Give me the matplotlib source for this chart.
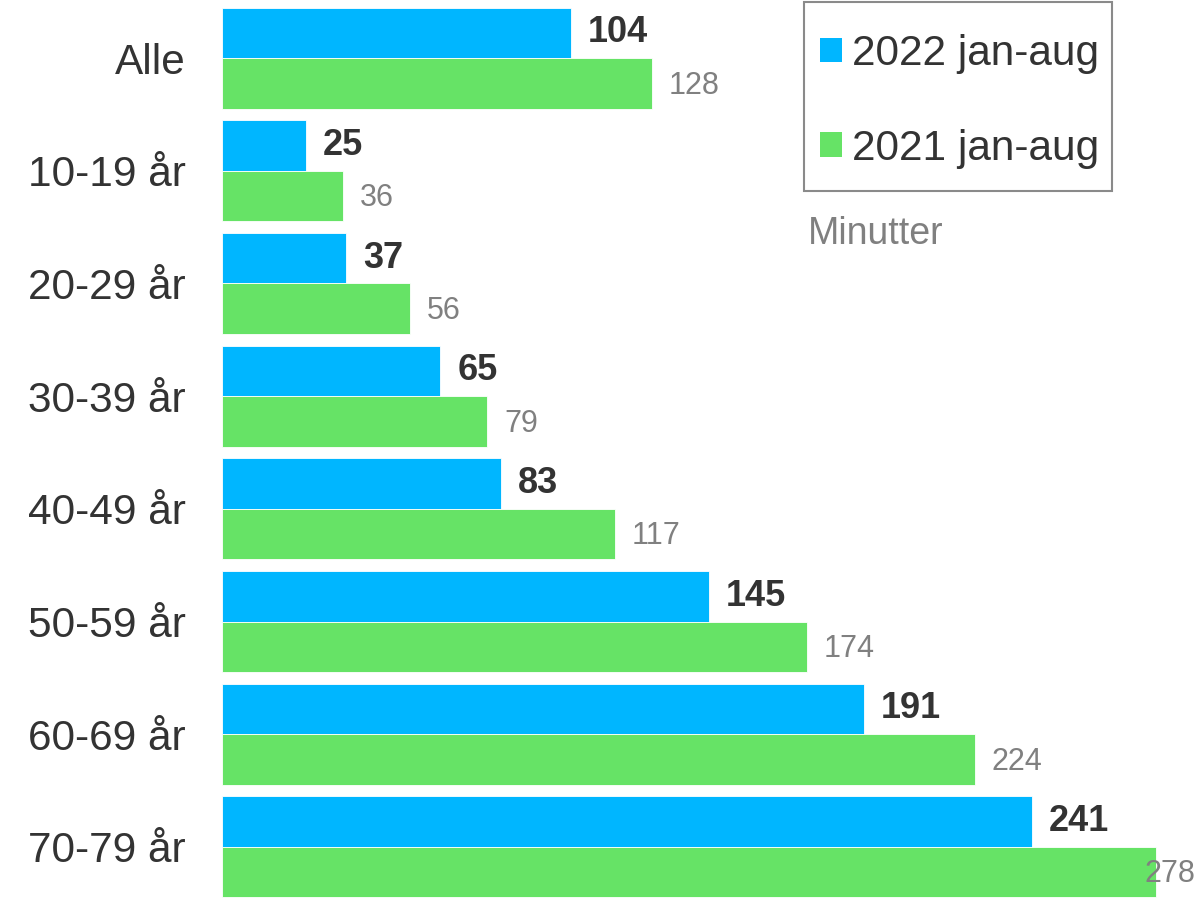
import numpy as np
import matplotlib.pyplot as plt
from matplotlib.patches import Patch, Rectangle

plt.rcParams['font.family'] = ['Liberation Sans', 'DejaVu Sans']

categories = ['Alle', '10-19 år', '20-29 år', '30-39 år', '40-49 år',
              '50-59 år', '60-69 år', '70-79 år']
minutes_2022 = [104, 25, 37, 65, 83, 145, 191, 241]
minutes_2021 = [128, 36, 56, 79, 117, 174, 224, 278]
series_labels = ['2022 jan-aug', '2021 jan-aug']

blue = '#00b6ff'
green = '#66e366'
dark = '#333333'
grey = '#808080'

W, H = 1201, 900
fig = plt.figure(figsize=(W / 100, H / 100), dpi=100)
ax = fig.add_axes([222 / W, 0, 1 - 222 / W, 1])

y = np.arange(len(categories))
h = 0.448
xmax = 291.4

ax.barh(y - h / 2, minutes_2022, height=h, color=blue, edgecolor='white', linewidth=0.6)
ax.barh(y + h / 2, minutes_2021, height=h, color=green, edgecolor='white', linewidth=0.6)

# value labels: bold for this year, grey for last year; keep them inside the axes
def put_label(x, yy, v, **kw):
    if x + 5 + 16 > xmax:
        ax.text(xmax - 1.8, yy, str(v), ha='right', va='center', **kw)
    else:
        ax.text(x + 5, yy, str(v), ha='left', va='center', **kw)

for i in range(len(categories)):
    put_label(minutes_2022[i], y[i] - h / 2, minutes_2022[i],
              fontsize=26, fontweight='bold', color=dark)
    put_label(minutes_2021[i], y[i] + h / 2 + 0.02, minutes_2021[i],
              fontsize=22, color=grey)

ax.set_xlim(0, xmax)
ax.set_ylim(7.471, -0.515)
ax.set_yticks(y)
ax.set_yticklabels(categories, fontsize=30.5, color=dark)
ax.tick_params(axis='y', length=0, pad=26)
ax.set_xticks([])
for s in ax.spines.values():
    s.set_visible(False)

# legend entries without frame, box drawn separately
handles = [Patch(facecolor=blue), Patch(facecolor=green)]
leg = fig.legend(handles, series_labels, loc='upper left',
                 bbox_to_anchor=(820 / W, 1 - 34 / H),
                 fontsize=30.5, frameon=False,
                 handlelength=0.52, handleheight=0.52, handletextpad=0.24,
                 labelspacing=1.29, borderpad=0, borderaxespad=0)
for t in leg.get_texts():
    t.set_color(dark)

fig.add_artist(Rectangle((804 / W, 1 - 191 / H), 308 / W, 189 / H,
                         transform=fig.transFigure, fill=False,
                         edgecolor='#8a8a8a', linewidth=1.5))

fig.text(808 / W, 1 - 234 / H, 'Minutter', fontsize=27, color=grey,
         ha='left', va='center')

fig.savefig('out.png', dpi=100)
